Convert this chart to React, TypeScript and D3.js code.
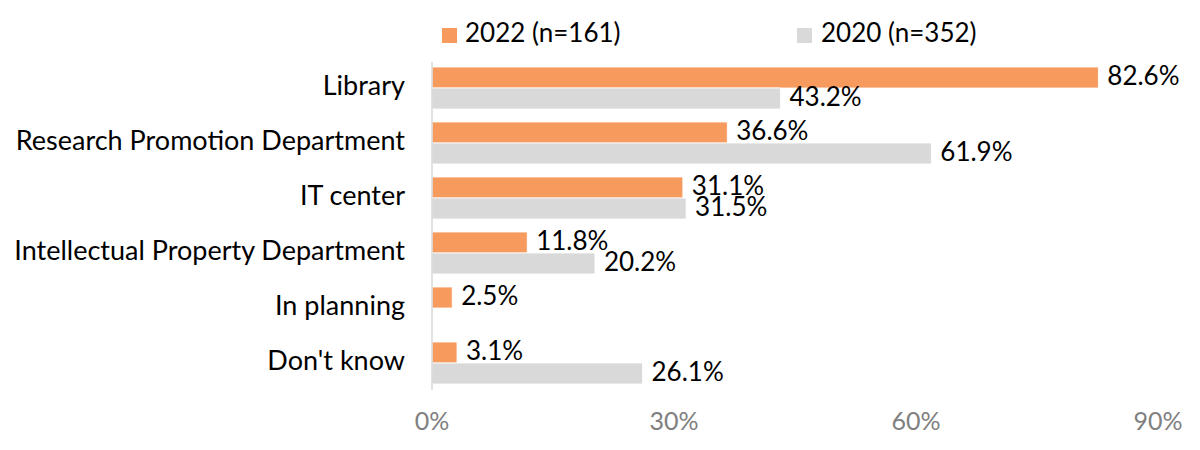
import React from "react";
import * as d3 from "d3";

const categories = [
  "Library",
  "Research Promotion Department",
  "IT center",
  "Intellectual Property Department",
  "In planning",
  "Don't know",
];
const values2022: (number | null)[] = [82.6, 36.6, 31.1, 11.8, 2.5, 3.1];
const values2020: (number | null)[] = [43.2, 61.9, 31.5, 20.2, null, 26.1];
const seriesNames = ["2022 (n=161)", "2020 (n=352)"];
const xTicks = [0, 30, 60, 90];

const W = 1200;
const H = 450;
const FONT = "Lato, 'Noto Sans', sans-serif";
const ORANGE = "#F79A5E";
const GREY = "#D9D9D9";

export default function App() {
  const x = d3.scaleLinear().domain([0, 90]).range([432, 1158]);
  const y = d3.scaleBand<string>().domain(categories).range([60.5, 390.5]);
  const inner = d3
    .scaleBand<string>()
    .domain(["2022", "2020"])
    .range([y.bandwidth() / 2 - 21, y.bandwidth() / 2 + 21]);
  const series = [
    { key: "2022", vals: values2022, color: ORANGE },
    { key: "2020", vals: values2020, color: GREY },
  ];
  const fmt = (v: number) => `${v.toFixed(1)}%`;

  return (
    <svg
      width={W}
      height={H}
      style={{ position: "fixed", left: 0, top: 0, background: "#fff" }}
      fontFamily={FONT}
    >
      {/* legend */}
      <g>
        <rect x={442} y={28} width={15} height={15} fill={ORANGE} />
        <text x={465} y={35} fontSize={26} dominantBaseline="middle" fill="#000">
          {seriesNames[0]}
        </text>
        <rect x={797} y={28} width={15} height={15} fill={GREY} />
        <text x={821} y={35} fontSize={26} dominantBaseline="middle" fill="#000">
          {seriesNames[1]}
        </text>
      </g>

      {/* bars */}
      {categories.map((c, i) => (
        <g key={c} transform={`translate(0,${y(c)})`}>
          {series.map((s) => {
            const v = s.vals[i];
            if (v == null) return null;
            const yy = inner(s.key)!;
            return (
              <g key={s.key}>
                <rect
                  x={x(0)}
                  y={yy}
                  width={x(v) - x(0)}
                  height={inner.bandwidth()}
                  fill={s.color}
                  stroke="#fff"
                  strokeWidth={0.8}
                />
                <text
                  x={x(v) + 9}
                  y={yy + inner.bandwidth() / 2 + 1}
                  fontSize={26}
                  dominantBaseline="middle"
                  fill="#000"
                >
                  {fmt(v)}
                </text>
              </g>
            );
          })}
        </g>
      ))}

      {/* axis line */}
      <line x1={x(0)} x2={x(0)} y1={62} y2={390} stroke={GREY} strokeWidth={1.5} />

      {/* category labels */}
      {categories.map((c) => (
        <text
          key={c}
          x={405}
          y={y(c)! + y.bandwidth() / 2}
          fontSize={27}
          textAnchor="end"
          dominantBaseline="middle"
          fill="#000"
        >
          {c}
        </text>
      ))}

      {/* x tick labels */}
      {xTicks.map((t) => (
        <text
          key={t}
          x={x(t)}
          y={424}
          fontSize={25}
          textAnchor="middle"
          dominantBaseline="middle"
          fill="#808080"
        >
          {`${t}%`}
        </text>
      ))}
    </svg>
  );
}
